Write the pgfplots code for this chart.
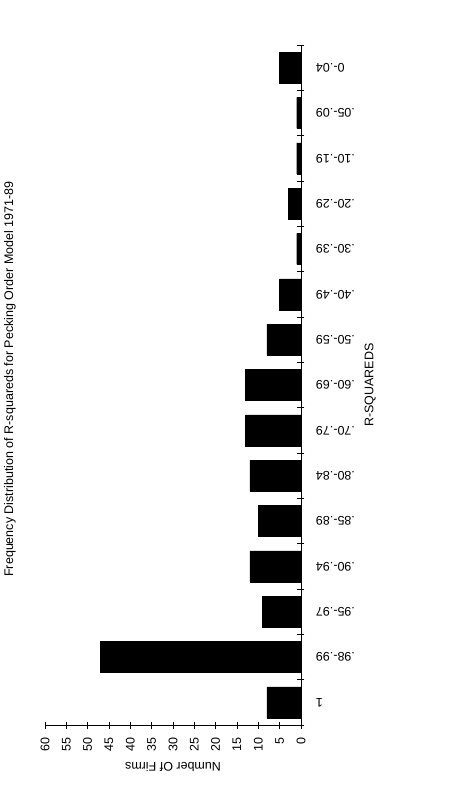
\documentclass[border=0pt]{standalone}
\usepackage{fontspec}
\setmainfont{Liberation Sans}
\usepackage{pgfplots}
\pgfplotsset{compat=1.18}
\begin{document}
\begin{tikzpicture}
\begin{axis}[
  at={(0,0)}, anchor=south west,
  xbar, scale only axis, width=256pt, height=680pt,
  x dir=reverse, xmin=0, xmax=60, ymin=-0.5, ymax=14.5,
  axis x line*=bottom, axis y line*=right,
  xtick={0,5,...,60},
  ytick={0,...,14},
  yticklabels={1,.98-.99,.95-.97,.90-.94,.85-.89,.80-.84,.70-.79,.60-.69,.50-.59,.40-.49,.30-.39,.20-.29,.10-.19,.05-.09,0-.04},
  major y tick style={draw=none},
  minor ytick={-0.5,0.5,...,14.5},
  tick align=center, major tick length=7pt, minor tick length=7pt,
  tick style={black, line width=0.6pt},
  axis line style={line width=0.6pt},
  bar width=31pt,
  /pgf/number format/assume math mode=true,
  tick label style={font=\fontsize{12.5}{14}\selectfont},
  xticklabel style={yshift=-6pt, rotate=90, anchor=east},
  yticklabel style={xshift=8pt, rotate=180, anchor=east},
  xlabel={Number Of Firms},
  ylabel={R-SQUAREDS},
  label style={font=\fontsize{12.5}{14}\selectfont},
  xlabel style={yshift=-4pt, rotate=180, anchor=south},
  ylabel style={at={(axis description cs:1.27,0.5)}, anchor=center, rotate=0},
  title={Frequency Distribution of R-squareds for Pecking Order Model 1971-89},
  title style={at={(axis description cs:-0.137,0.5)}, rotate=90, anchor=center, font=\fontsize{12.5}{14}\selectfont},
  clip=false,
]
\addplot[fill=black, draw=black] coordinates {
  (8,0) (47,1) (9,2) (12,3) (10,4) (12,5) (13,6) (13,7) (8,8) (5,9) (1,10) (3,11) (1,12) (1,13) (5,14)
};
\end{axis}
\path (-45pt,-78pt) rectangle (410pt,725pt);
\end{tikzpicture}
\end{document}
